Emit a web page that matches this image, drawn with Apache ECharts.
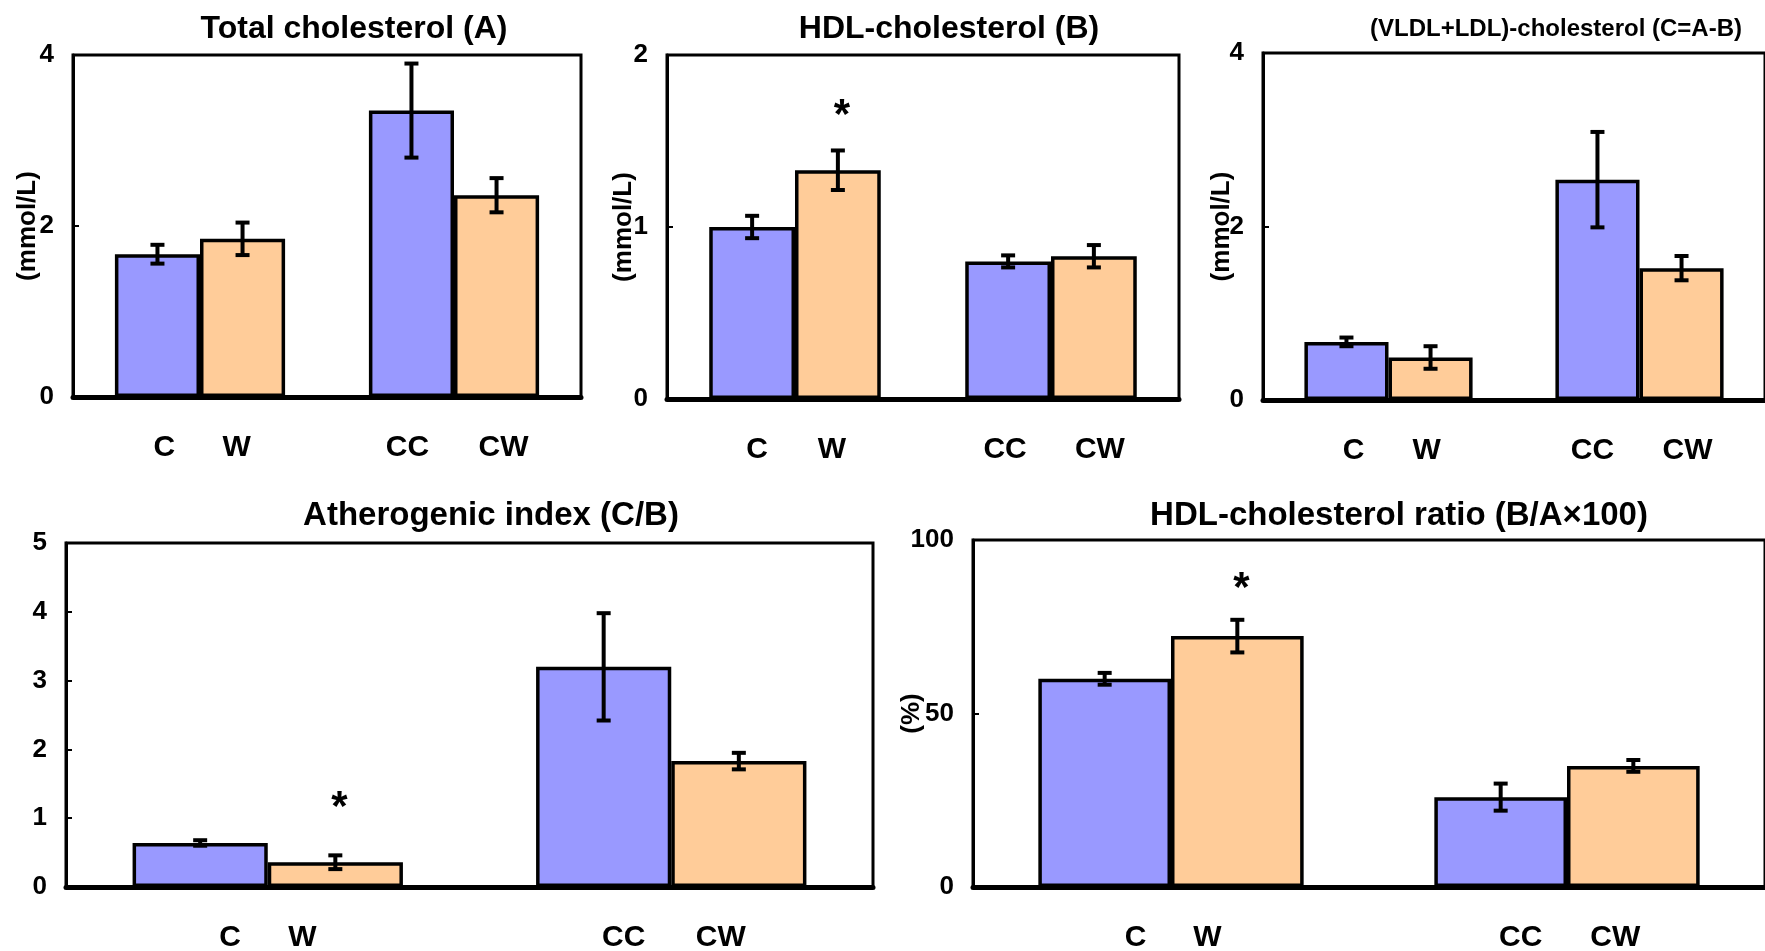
<!DOCTYPE html>
<html>
<head>
<meta charset="utf-8">
<script src="https://cdn.jsdelivr.net/npm/echarts@6/dist/echarts.min.js"></script>
<style>
  html, body { margin: 0; padding: 0; background: #fff; }
  #ch { width: 1765px; height: 951px; }
</style>
</head>
<body>
<div id="ch"></div>
<script>
// groups on the x axis; first bar of each group is blue, second orange
var groups = ['C/W', 'CC/CW'];
var barNames = ['C', 'W', 'CC', 'CW'];

// values in order C, W, CC, CW
var totalMean = [1.67, 1.85, 3.35, 2.36];
var totalErr  = [0.11, 0.19, 0.55, 0.20];
var totalSig  = [0, 0, 0, 0];

var hdlMean = [1.00, 1.33, 0.80, 0.83];
var hdlErr  = [0.065, 0.115, 0.035, 0.065];
var hdlSig  = [0, 1, 0, 0];

var ldlMean = [0.67, 0.49, 2.54, 1.52];
var ldlErr  = [0.05, 0.13, 0.55, 0.14];
var ldlSig  = [0, 0, 0, 0];

var aiMean = [0.64, 0.36, 3.20, 1.83];
var aiErr  = [0.04, 0.10, 0.78, 0.12];
var aiSig  = [0, 1, 0, 0];

var ratioMean = [60.0, 72.3, 25.9, 34.9];
var ratioErr  = [1.7, 4.7, 3.9, 1.7];
var ratioSig  = [0, 1, 0, 0];

var FONT = "'Liberation Sans', Arial, sans-serif";
var BLUE = '#9999FF', ORANGE = '#FFCC99';
var BAR_FRAC = 0.335;

var panels = [
  {title: 'Total cholesterol (A)', tx: 349, ty: 8, ts: 32, grid: {left: 73, top: 55, width: 508, height: 342},
   max: 4, interval: 2, mean: totalMean, err: totalErr, sig: totalSig, yName: '(mmol/L)', nameGap: 32, shift: [7, -6, -4, 7], starGap: 46},
  {title: 'HDL-cholesterol (B)', tx: 944, ty: 8, ts: 32, grid: {left: 667, top: 55, width: 512, height: 344},
   max: 2, interval: 1, mean: hdlMean, err: hdlErr, sig: hdlSig, yName: '(mmol/L)', nameGap: 30, shift: [5, -6, -3, 6], starGap: 46},
  {title: '(VLDL+LDL)-cholesterol (C=A-B)', tx: 1551, ty: 12, ts: 24, grid: {left: 1263, top: 53, width: 512, height: 347},
   max: 4, interval: 2, mean: ldlMean, err: ldlErr, sig: ldlSig, yName: '(mmol/L)', nameGap: 28, shift: [7, -4, -5, 6], starGap: 46},
  {title: 'Atherogenic index (C/B)', tx: 486, ty: 494, ts: 33, grid: {left: 66, top: 543, width: 807, height: 344},
   max: 5, interval: 1, mean: aiMean, err: aiErr, sig: aiSig, yName: '', nameGap: 30, shift: [30, -33, 20, -18], starGap: 59},
  {title: 'HDL-cholesterol ratio (B/A\u00d7100)', tx: 1394, ty: 494, ts: 33, grid: {left: 973, top: 540, width: 798, height: 347},
   max: 100, interval: 50, mean: ratioMean, err: ratioErr, sig: ratioSig, yName: '(%)', nameGap: 48, shift: [31, -30, 20, -18], starGap: 42}
];

function errorBars(params, api) {
  var cat = api.value(0), slot = api.value(1), mean = api.value(2), err = api.value(3), sig = api.value(4);
  var band = api.size([1, 0])[0];
  var bw = band * BAR_FRAC;
  var cx = api.coord([cat, 0])[0] + (slot === 0 ? -bw / 2 : bw / 2);
  var yTop = api.coord([cat, mean + err])[1];
  var yBot = api.coord([cat, mean - err])[1];
  var cap = 7;
  var st = {stroke: '#000', lineWidth: 4};
  var kids = [
    {type: 'line', shape: {x1: cx, y1: yTop, x2: cx, y2: yBot}, style: st},
    {type: 'line', shape: {x1: cx - cap, y1: yTop, x2: cx + cap, y2: yTop}, style: st},
    {type: 'line', shape: {x1: cx - cap, y1: yBot, x2: cx + cap, y2: yBot}, style: st}
  ];
  if (sig) {
    // significance star above the error bar
    kids.push({type: 'text', style: {text: '*', x: cx + 4, y: yTop - api.value(5) + 12,
      fill: '#000', font: 'bold 42px ' + FONT, textAlign: 'center', textVerticalAlign: 'middle'}});
  }
  return {type: 'group', children: kids};
}

var Chart = echarts.init(document.getElementById('ch'));
var option = {
  animation: false,
  backgroundColor: '#fff',
  title: [],
  grid: [],
  xAxis: [],
  yAxis: [],
  series: []
};

panels.forEach(function (p, k) {
  option.title.push({
    text: p.title, left: p.tx, top: p.ty, textAlign: 'center',
    textStyle: {fontFamily: FONT, fontWeight: 'bold', fontSize: p.ts, color: '#000'}
  });
  option.grid.push({
    left: p.grid.left, top: p.grid.top, width: p.grid.width, height: p.grid.height,
    show: true, borderColor: '#000', borderWidth: 3, backgroundColor: 'transparent'
  });
  option.xAxis.push({
    type: 'category', gridIndex: k, data: groups, boundaryGap: true,
    axisLine: {lineStyle: {color: '#000', width: 5}},
    axisTick: {inside: true, length: 8, lineStyle: {color: '#000', width: 3}},
    axisLabel: {show: false}
  });
  option.yAxis.push({
    type: 'value', gridIndex: k, min: 0, max: p.max, interval: p.interval,
    name: p.yName, nameLocation: 'middle', nameRotate: 90, nameGap: p.nameGap,
    nameMoveOverlap: false,
    nameTextStyle: {fontFamily: FONT, fontWeight: 'bold', fontSize: 26, color: '#000'},
    axisLine: {show: true, lineStyle: {color: '#000', width: 3}},
    axisTick: {show: true, inside: true, length: 6, lineStyle: {color: '#000', width: 2}},
    axisLabel: {fontFamily: FONT, fontWeight: 'bold', fontSize: 26, color: '#000', margin: 19},
    splitLine: {show: false}
  });
  [0, 1].forEach(function (slot) {
    var data = [0, 1].map(function (g) {
      var i = g * 2 + slot;
      return {value: p.mean[i], name: barNames[i], label: {offset: [p.shift[i], 0]}};
    });
    option.series.push({
      type: 'bar', xAxisIndex: k, yAxisIndex: k, data: data,
      barWidth: (BAR_FRAC * 100) + '%', barGap: '0%',
      itemStyle: {color: slot === 0 ? BLUE : ORANGE, borderColor: '#000', borderWidth: 3.5},
      label: {show: true, position: 'bottom', distance: 36,
        formatter: function (q) { return q.name; },
        fontFamily: FONT, fontWeight: 'bold', fontSize: 30, color: '#000'},
      z: 2
    });
  });
  var eb = [];
  for (var i = 0; i < 4; i++) {
    eb.push([i >> 1, i & 1, p.mean[i], p.err[i], p.sig[i], p.starGap]);
  }
  option.series.push({
    type: 'custom', xAxisIndex: k, yAxisIndex: k, data: eb,
    encode: {x: 0, y: 2}, renderItem: errorBars, clip: false, z: 5
  });
});

Chart.setOption(option);
</script>
</body>
</html>
